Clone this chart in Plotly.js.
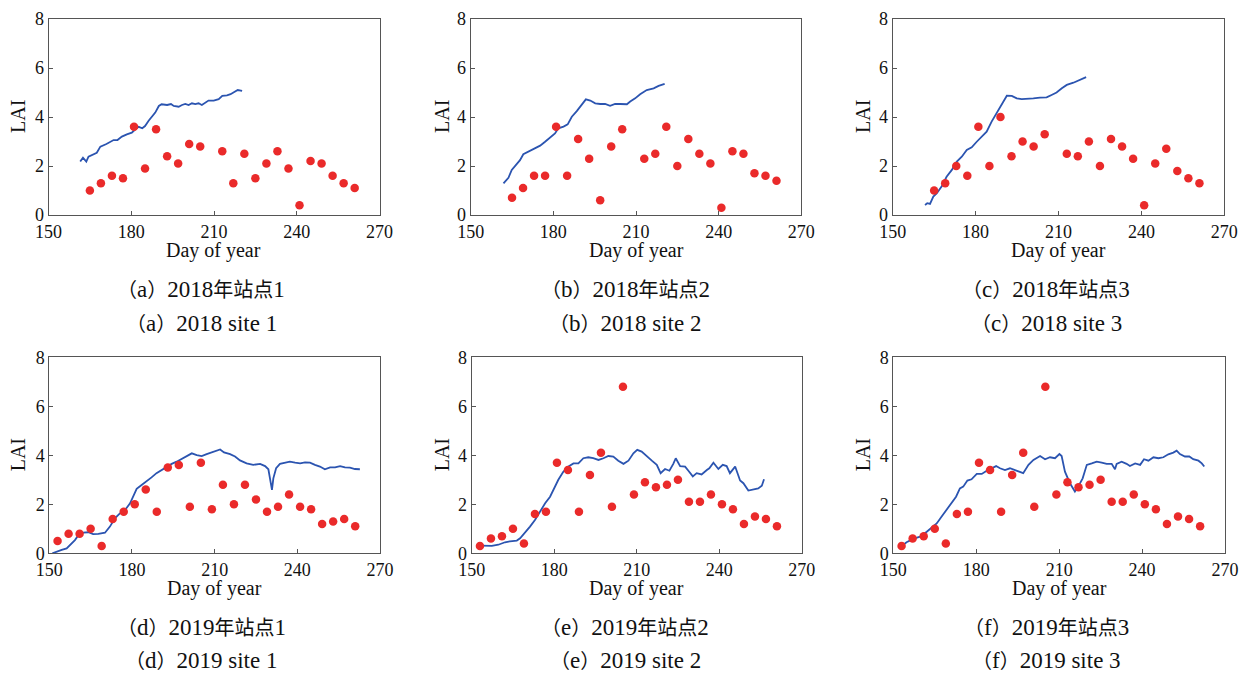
<!DOCTYPE html>
<html>
<head>
<meta charset="utf-8">
<script src="https://cdn.plot.ly/plotly-3.0.1.min.js"></script>
<style>html,body{margin:0;padding:0;background:#fff;}#chart{width:1249px;height:673px;}</style>
</head>
<body>
<div id="chart"></div>
<script>
// Observation days
const obsDays2018 = [165,169,173,177,181,185,189,193,197,201,205,213,217,221,225,229,233,237,241,245,249,253,257,261];
const obsDays2019 = [153,157,161,165,169,173,177,181,185,189,193,197,201,205,209,213,217,221,225,229,233,237,241,245,249,253,257,261];

// Observed LAI (red dots)
const obsA = [1.0,1.3,1.6,1.5,3.6,1.9,3.5,2.4,2.1,2.9,2.8,2.6,1.3,2.5,1.5,2.1,2.6,1.9,0.4,2.2,2.1,1.6,1.3,1.1];
const obsB = [0.7,1.1,1.6,1.6,3.6,1.6,3.1,2.3,0.6,2.8,3.5,2.3,2.5,3.6,2.0,3.1,2.5,2.1,0.3,2.6,2.5,1.7,1.6,1.4];
const obsC = [1.0,1.3,2.0,1.6,3.6,2.0,4.0,2.4,3.0,2.8,3.3,2.5,2.4,3.0,2.0,3.1,2.8,2.3,0.4,2.1,2.7,1.8,1.5,1.3];
const obsD = [0.5,0.8,0.8,1.0,0.3,1.4,1.7,2.0,2.6,1.7,3.5,3.6,1.9,3.7,1.8,2.8,2.0,2.8,2.2,1.7,1.9,2.4,1.9,1.8,1.2,1.3,1.4,1.1];
const obsE = [0.3,0.6,0.7,1.0,0.4,1.6,1.7,3.7,3.4,1.7,3.2,4.1,1.9,6.8,2.4,2.9,2.7,2.8,3.0,2.1,2.1,2.4,2.0,1.8,1.2,1.5,1.4,1.1];
const obsF = [0.3,0.6,0.7,1.0,0.4,1.6,1.7,3.7,3.4,1.7,3.2,4.1,1.9,6.8,2.4,2.9,2.7,2.8,3.0,2.1,2.1,2.4,2.0,1.8,1.2,1.5,1.4,1.1];

// Simulated LAI (blue lines)
const simDaysA = [161.5,162.5,163.7,164.5,167.5,168.8,171,173.6,175,176.6,178.4,180.2,181.5,182.7,184,185,186.3,187.5,188.7,190,191,193,194.4,195.4,197.2,198.4,199.6,200.8,202,203.2,204.4,205.6,206.9,208,209.9,211.7,213,214.7,216,217.7,218.6,220.2];
const simA = [2.18,2.34,2.18,2.38,2.54,2.79,2.9,3.06,3.06,3.2,3.29,3.36,3.5,3.6,3.54,3.63,3.85,4.01,4.18,4.45,4.52,4.49,4.53,4.45,4.42,4.49,4.53,4.49,4.56,4.53,4.56,4.49,4.58,4.67,4.67,4.73,4.86,4.88,4.93,5.03,5.1,5.07];

const simDaysB = [161.9,162.8,163.7,164.9,166.7,167.9,169.1,171,172.8,174,175.2,177,178.8,180.6,181.8,183.7,185.2,186.7,188.5,190.3,191.8,193.4,195.2,197,198.8,200.6,202.4,204.3,206.7,207.9,209.7,211.5,213.9,216.4,218.2,220.4];
const simB = [1.29,1.43,1.52,1.84,2.07,2.24,2.48,2.59,2.69,2.79,2.83,2.99,3.17,3.33,3.54,3.61,3.7,4.01,4.24,4.53,4.72,4.67,4.56,4.53,4.53,4.46,4.53,4.53,4.52,4.63,4.76,4.93,5.1,5.17,5.27,5.35];

const simDaysC = [161.7,162.5,163.5,164.7,165.9,167.7,169.5,171.4,173.2,175,176.8,178.6,180.4,182.2,184,185.8,187.6,189.4,191.3,193.1,194.9,196.7,198.5,200.9,203.3,205.7,207.5,209.3,211.2,213,215.4,217.8,220];
const simC = [0.41,0.48,0.45,0.75,0.88,1.16,1.56,1.84,2.18,2.38,2.65,2.76,2.99,3.2,3.4,3.81,4.15,4.52,4.87,4.86,4.76,4.73,4.73,4.76,4.79,4.8,4.9,5.0,5.17,5.31,5.4,5.51,5.63];

const simDaysD = [151.1,152.7,154.5,156.3,157.7,159.3,160.8,162.3,164.2,165.9,167.8,170.2,172,173.8,175.6,177.5,179.3,180.5,181.7,183.5,185.3,187.1,188.9,190.8,192.6,194.4,196.2,198,199.8,201.7,203.5,205.3,207.1,208.9,210.7,212,213.4,215.6,217.4,219.2,221.6,224,226.5,228.3,229.5,230.3,230.8,231.3,232.3,233.7,235.5,237.3,239.2,241,242.8,244.6,246.4,248.2,250,251.9,253.7,255.5,257.3,259.1,260.9,262.7];
const simD = [0.0,0.08,0.14,0.2,0.34,0.54,0.78,0.84,0.86,0.78,0.79,0.84,1.09,1.43,1.63,1.77,2.04,2.31,2.63,2.79,2.93,3.1,3.27,3.4,3.54,3.65,3.74,3.85,3.97,4.08,4.01,3.97,4.05,4.11,4.18,4.24,4.12,4.05,3.95,3.79,3.67,3.61,3.65,3.56,3.43,2.99,2.59,3.06,3.47,3.65,3.7,3.74,3.7,3.67,3.71,3.7,3.61,3.54,3.43,3.51,3.51,3.56,3.51,3.5,3.44,3.43];

const simDaysE = [153.3,155.5,157.3,159.7,162.1,163.9,166.4,167.6,169.4,171.2,173,174.8,176.7,178.5,179.9,181.5,183.3,185.2,187,188.8,190.6,192.4,194.2,196.1,197.9,199.7,201.5,203.3,205.2,207,208.8,210.2,211.8,213.6,215.5,217.3,218.7,220.3,221.9,223.3,224.2,225.8,227.6,228.8,230.4,231.8,233.6,235.5,236.4,237.9,239.7,241.3,242.7,243.9,245.8,247.6,248.8,250.6,252.4,254.2,255.5,256.3];
const simE = [0.31,0.31,0.3,0.35,0.45,0.49,0.52,0.61,0.84,1.09,1.36,1.7,2.04,2.31,2.65,3.0,3.33,3.54,3.67,3.67,3.88,3.92,3.88,3.81,3.88,3.97,3.95,3.78,3.65,3.78,4.08,4.22,4.15,3.95,3.78,3.61,3.27,3.44,3.37,3.65,3.88,3.56,3.54,3.37,3.14,3.27,3.22,3.4,3.47,3.7,3.44,3.61,3.56,3.27,3.54,2.97,2.86,2.56,2.59,2.65,2.76,3.02];

const simDaysF = [152.7,154.8,157.2,159.7,162.1,163.9,165.7,167.5,169.3,171.1,172.7,174.1,175.3,176.8,178.3,180.2,182,183.8,185.6,187.2,188.6,190.4,192.2,194,195.8,197,198.9,200.7,203.1,204.9,206.7,208.5,210.1,210.9,212.1,213.9,215.7,216.9,218.5,220,221.8,223.6,225.4,227.2,229,230.2,230.8,232.6,234.4,235.6,237.5,239.3,240.7,242.3,244.1,245.9,247.7,249.5,251.3,252.5,253.7,255.5,257.1,258.5,260.4,261.6,262.5];
const simF = [0.27,0.45,0.59,0.68,0.88,1.05,1.22,1.5,1.77,2.08,2.31,2.65,2.72,2.97,3.02,3.24,3.24,3.37,3.47,3.56,3.47,3.4,3.47,3.4,3.33,3.27,3.61,3.81,3.97,3.84,3.92,3.88,4.05,3.97,3.33,2.86,2.52,2.72,3.06,3.61,3.67,3.74,3.7,3.65,3.65,3.43,3.65,3.74,3.65,3.56,3.67,3.61,3.84,3.78,3.92,3.88,3.92,4.04,4.11,4.19,4.05,3.95,3.95,3.84,3.78,3.67,3.54];

// Tick labels and captions
const xTicks = [150,180,210,240,270];
const yTicks = [0,2,4,6,8];
const captionLetters = ['a','b','c','d','e','f'];
const captionYears = ['2018','2018','2018','2019','2019','2019'];
const captionSites = ['1','2','3','1','2','3'];

const W = 1249, H = 673;
const panels = [
  {sd: simDaysA, s: simA, od: obsDays2018, o: obsA, x0: 48.5, x1: 379.5, y0: 19, y1: 215, cx: 201, ylab: 18},
  {sd: simDaysB, s: simB, od: obsDays2018, o: obsB, x0: 470.7, x1: 801.3, y0: 19, y1: 215, cx: 625, ylab: 442},
  {sd: simDaysC, s: simC, od: obsDays2018, o: obsC, x0: 892.7, x1: 1224.3, y0: 19, y1: 215, cx: 1046, ylab: 863},
  {sd: simDaysD, s: simD, od: obsDays2019, o: obsD, x0: 49.3, x1: 380, y0: 357.3, y1: 553.3, cx: 201, ylab: 18},
  {sd: simDaysE, s: simE, od: obsDays2019, o: obsE, x0: 471.7, x1: 801.7, y0: 357.3, y1: 553.3, cx: 625, ylab: 442},
  {sd: simDaysF, s: simF, od: obsDays2019, o: obsF, x0: 893.3, x1: 1225, y0: 357.3, y1: 553.3, cx: 1046, ylab: 863}
];

const serif = 'Liberation Serif, Times New Roman, serif';
const capFont = 'Liberation Serif, Noto Sans CJK SC, serif';
const big = s => '<span style="font-size:23px">' + s + '</span>';
const traces = [];
const layout = {
  width: W, height: H,
  margin: {l: 0, r: 0, t: 0, b: 0},
  paper_bgcolor: '#fff', plot_bgcolor: '#fff',
  showlegend: false,
  font: {family: serif, color: '#111', size: 18},
  annotations: []
};

panels.forEach((p, i) => {
  const n = i + 1;
  const xa = n === 1 ? 'x' : 'x' + n;
  const ya = n === 1 ? 'y' : 'y' + n;
  traces.push({x: p.sd, y: p.s, xaxis: xa, yaxis: ya, type: 'scatter', mode: 'lines',
    line: {color: '#2b54b0', width: 1.8}, hoverinfo: 'skip'});
  traces.push({x: p.od, y: p.o, xaxis: xa, yaxis: ya, type: 'scatter', mode: 'markers',
    marker: {color: '#ea2a2a', size: 8.5}, cliponaxis: false, hoverinfo: 'skip'});
  const axCommon = {showgrid: false, zeroline: false, showline: true, mirror: true,
    linecolor: '#555', linewidth: 1, ticks: 'inside', ticklen: 4, tickwidth: 1, tickcolor: '#555',
    tickfont: {family: serif, size: 18, color: '#111'}};
  layout['xaxis' + (n === 1 ? '' : n)] = Object.assign({}, axCommon, {
    domain: [p.x0 / W, p.x1 / W], anchor: ya, range: [150, 270],
    tickvals: xTicks, ticktext: xTicks.map(String)
  });
  layout['yaxis' + (n === 1 ? '' : n)] = Object.assign({}, axCommon, {
    domain: [1 - p.y1 / H, 1 - p.y0 / H], anchor: xa, range: [0, 8],
    tickvals: yTicks, ticktext: yTicks.map(String)
  });
  layout.annotations.push({xref: 'paper', yref: 'paper', x: p.ylab / W, y: 1 - (p.y0 + p.y1) / 2 / H,
    text: 'LAI', textangle: -90, showarrow: false, xanchor: 'center', yanchor: 'middle',
    font: {family: serif, size: 20, color: '#111'}});
  layout.annotations.push({xref: 'paper', yref: 'paper', x: (p.x0 + p.x1) / 2 / W, y: 1 - (p.y1 + 35) / H,
    text: 'Day of year', showarrow: false, xanchor: 'center', yanchor: 'middle',
    font: {family: serif, size: 20, color: '#111'}});
  const row2 = i >= 3;
  layout.annotations.push({xref: 'paper', yref: 'paper', x: p.cx / W, y: 1 - (row2 ? 627 : 289) / H,
    text: '（' + big(captionLetters[i]) + '）' + big(captionYears[i]) + '年站点' + big(captionSites[i]),
    showarrow: false, xanchor: 'center', yanchor: 'middle',
    font: {family: capFont, size: 20, color: '#111'}});
  layout.annotations.push({xref: 'paper', yref: 'paper', x: p.cx / W, y: 1 - (row2 ? 660 : 323) / H,
    text: '（' + big(captionLetters[i]) + '）' + big(captionYears[i] + ' site ' + captionSites[i]),
    showarrow: false, xanchor: 'center', yanchor: 'middle',
    font: {family: capFont, size: 20, color: '#111'}});
});

Plotly.newPlot('chart', traces, layout, {staticPlot: true, displayModeBar: false});
</script>
</body>
</html>
